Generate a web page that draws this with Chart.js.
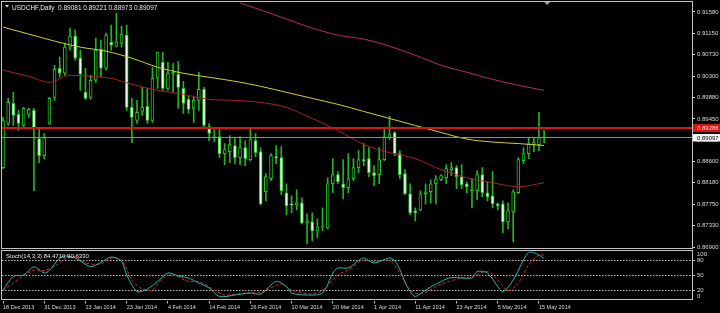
<!DOCTYPE html>
<html>
<head>
<meta charset="utf-8">
<script src="https://cdn.jsdelivr.net/npm/chart.js@4.4.1/dist/chart.umd.min.js"></script>
<style>
    html, body { margin: 0; padding: 0; background: #000; }
    #wrap { position: relative; width: 720px; height: 313px; background: #000; overflow: hidden; }
    #priceBox { position: absolute; left: 0; top: 0; width: 720px; height: 250px; }
    #stochBox { position: absolute; left: 0; top: 250px; width: 720px; height: 63px; }
</style>
</head>
<body>
<div id="wrap">
    <div id="priceBox"><canvas id="priceChart"></canvas></div>
    <div id="stochBox"><canvas id="stochChart"></canvas></div>
</div>
<script>
// USDCHF daily, 18 Dec 2013 .. 16 May 2014 (bar index 0..105)
const opens = [
    0.8848, 0.8936, 0.8976, 0.8954, 0.8932, 0.8954, 0.8962, 0.8906, 0.8872, 0.8936,
    0.8988, 0.9046, 0.9036, 0.9088, 0.9110, 0.9066, 0.8998, 0.8988, 0.9022, 0.9084,
    0.9046, 0.9098, 0.9090, 0.9096, 0.9112, 0.8968, 0.8942, 0.8960, 0.8970, 0.8942,
    0.9026, 0.9058, 0.9006, 0.9034, 0.9034, 0.9006, 0.8984, 0.8966, 0.8982, 0.9004,
    0.8930, 0.8908, 0.8910, 0.8876, 0.8880, 0.8892, 0.8868, 0.8888, 0.8864, 0.8902,
    0.8880, 0.8800, 0.8826, 0.8870, 0.8868, 0.8798, 0.8776, 0.8774, 0.8778, 0.8738,
    0.8740, 0.8722, 0.8728, 0.8728, 0.8816, 0.8834, 0.8816, 0.8808, 0.8826, 0.8848,
    0.8864, 0.8866, 0.8838, 0.8834, 0.8864, 0.8908, 0.8918, 0.8876, 0.8836, 0.8796,
    0.8762, 0.8764, 0.8796, 0.8800, 0.8816, 0.8824, 0.8828, 0.8844, 0.8848, 0.8830,
    0.8816, 0.8802, 0.8802, 0.8834, 0.8798, 0.8792, 0.8776, 0.8776, 0.8740, 0.8760,
    0.8798, 0.8862, 0.8876, 0.8894, 0.8894, 0.89081
];
const highs = [
    0.8948, 0.8986, 0.8998, 0.8962, 0.8968, 0.8966, 0.8966, 0.8928, 0.8916, 0.8988,
    0.9052, 0.9068, 0.9096, 0.9126, 0.9122, 0.9082, 0.9046, 0.9032, 0.9106, 0.9102,
    0.9116, 0.9132, 0.9156, 0.9130, 0.9132, 0.8986, 0.8982, 0.9008, 0.9006, 0.9048,
    0.9078, 0.9078, 0.9058, 0.9056, 0.9060, 0.9020, 0.8990, 0.8988, 0.9038, 0.9008,
    0.8936, 0.8924, 0.8928, 0.8896, 0.8912, 0.8908, 0.8910, 0.8902, 0.8928, 0.8916,
    0.8888, 0.8836, 0.8876, 0.8892, 0.8890, 0.8816, 0.8792, 0.8804, 0.8788, 0.8756,
    0.8758, 0.8746, 0.8768, 0.8828, 0.8866, 0.8840, 0.8864, 0.8876, 0.8866, 0.8882,
    0.8896, 0.8888, 0.8852, 0.8888, 0.8928, 0.8950, 0.8920, 0.8882, 0.8844, 0.8816,
    0.8768, 0.8802, 0.8816, 0.8824, 0.8832, 0.8834, 0.8854, 0.8858, 0.8852, 0.8854,
    0.8820, 0.8826, 0.8842, 0.8848, 0.8820, 0.8840, 0.8778, 0.8782, 0.8778, 0.8804,
    0.8868, 0.8888, 0.8908, 0.8908, 0.8958, 0.89221
];
const lows = [
    0.8846, 0.8932, 0.8932, 0.8922, 0.8926, 0.8948, 0.8802, 0.8858, 0.8866, 0.8934,
    0.8982, 0.9028, 0.9032, 0.9082, 0.9062, 0.9002, 0.8984, 0.8984, 0.9018, 0.9028,
    0.9042, 0.9082, 0.9088, 0.9088, 0.8962, 0.8898, 0.8936, 0.8952, 0.8936, 0.8938,
    0.9006, 0.9002, 0.9002, 0.8998, 0.8966, 0.8956, 0.8956, 0.8938, 0.8962, 0.8928,
    0.8902, 0.8900, 0.8868, 0.8854, 0.8858, 0.8856, 0.8854, 0.8852, 0.8862, 0.8870,
    0.8774, 0.8782, 0.8822, 0.8856, 0.8794, 0.8754, 0.8758, 0.8764, 0.8736, 0.8696,
    0.8702, 0.8708, 0.8722, 0.8726, 0.8798, 0.8816, 0.8786, 0.8798, 0.8822, 0.8838,
    0.8852, 0.8830, 0.8812, 0.8816, 0.8862, 0.8904, 0.8872, 0.8826, 0.8794, 0.8754,
    0.8742, 0.8762, 0.8776, 0.8778, 0.8776, 0.8822, 0.8816, 0.8832, 0.8806, 0.8806,
    0.8798, 0.8768, 0.8784, 0.8790, 0.8782, 0.8768, 0.8764, 0.8718, 0.8726, 0.8700,
    0.8796, 0.8856, 0.8866, 0.8880, 0.8882, 0.88973
];
const closes = [
    0.8942, 0.8978, 0.8952, 0.8936, 0.8966, 0.8964, 0.8926, 0.8872, 0.8908, 0.8986,
    0.9044, 0.9036, 0.9088, 0.9110, 0.9066, 0.9034, 0.8986, 0.9022, 0.9082, 0.9046,
    0.9112, 0.9092, 0.9098, 0.9114, 0.8968, 0.8948, 0.8958, 0.8968, 0.8942, 0.9026,
    0.9078, 0.9006, 0.9036, 0.9038, 0.9008, 0.8976, 0.8964, 0.8982, 0.9004, 0.8932,
    0.8916, 0.8910, 0.8876, 0.8884, 0.8894, 0.8868, 0.8888, 0.8866, 0.8904, 0.8878,
    0.8776, 0.8830, 0.8872, 0.8868, 0.8802, 0.8772, 0.8774, 0.8778, 0.8738, 0.8742,
    0.8722, 0.8730, 0.8730, 0.8816, 0.8834, 0.8820, 0.8808, 0.8826, 0.8848, 0.8864,
    0.8862, 0.8838, 0.8832, 0.8864, 0.8910, 0.8914, 0.8876, 0.8834, 0.8796, 0.8758,
    0.8758, 0.8796, 0.8800, 0.8816, 0.8826, 0.8832, 0.8846, 0.8848, 0.8830, 0.8814,
    0.8810, 0.8806, 0.8834, 0.8798, 0.8790, 0.8776, 0.8772, 0.8740, 0.8762, 0.8800,
    0.8864, 0.8876, 0.8896, 0.8898, 0.8908, 0.89097
];

const dateBars = [0, 8, 16, 24, 32, 40, 48, 56, 64, 72, 80, 88, 96, 104];
const dateLabels = ['18 Dec 2013', '31 Dec 2013', '13 Jan 2014', '23 Jan 2014', '4 Feb 2014',
    '14 Feb 2014', '26 Feb 2014', '10 Mar 2014', '20 Mar 2014', '1 Apr 2014', '11 Apr 2014',
    '23 Apr 2014', '5 May 2014', '15 May 2014'];

const priceTicks = [0.86900, 0.87330, 0.87750, 0.88180, 0.88600, 0.89030, 0.89450,
    0.89880, 0.90300, 0.90730, 0.91150, 0.91580];
const levelLine = 0.89286;

// moving averages, read at sample bars
const yellowMaBars = [0, 5, 10, 15, 20, 25, 30, 35, 40, 45, 50, 55, 60, 65, 70, 75, 80, 85, 90, 95, 100, 105];
const yellowMa = [0.9128, 0.9114, 0.9100, 0.9088, 0.9080, 0.9066, 0.9048, 0.9036, 0.9028, 0.9020, 0.9010,
    0.8998, 0.8986, 0.8974, 0.8960, 0.8946, 0.8932, 0.8918, 0.8905, 0.8899, 0.8896, 0.8892];
const redMaBars = [0, 5, 9, 13, 17, 21, 25, 30, 35, 40, 45, 50, 55, 60, 65, 70, 75, 80, 85, 90, 95, 100, 105];
const redMa = [0.9042, 0.9030, 0.9018, 0.9032, 0.9030, 0.9026, 0.9014, 0.9002, 0.8994, 0.8984, 0.8982, 0.8978,
    0.8968, 0.8946, 0.8922, 0.8894, 0.8878, 0.8866, 0.8844, 0.8828, 0.8818, 0.8810, 0.8818];
const magentaMaBars = [46, 50, 55, 60, 65, 70, 75, 80, 85, 90, 95, 100, 105];
const magentaMa = [0.9176, 0.9162, 0.9144, 0.9126, 0.9112, 0.9104, 0.9090, 0.9072, 0.9052, 0.9038, 0.9024, 0.9012, 0.9002];

// Stochastic (14,3,3)
const stochMainBars = [0, 2, 4, 6, 8, 9, 11, 12, 14, 17, 19, 21, 23, 24, 26, 28, 30, 32, 34, 36, 38, 40, 42, 45, 48,
    50, 53, 55, 56, 59, 62, 64, 65, 67, 69, 70, 72, 75, 76, 77, 78, 79, 80, 82, 85, 87, 91, 92, 94, 96, 97, 99,
    101, 102, 103, 105];
const stochMain = [21, 48, 51, 67, 55, 60, 85, 89, 85, 68, 76, 87, 78, 51, 18, 23, 38, 55, 49, 45, 35, 25, 8, 11, 15,
    13, 38, 28, 15, 11, 15, 55, 65, 65, 80, 85, 75, 85, 80, 62, 37, 18, 8, 21, 38, 46, 45, 58, 55, 28, 17, 41,
    81, 96, 96, 84.4710];
const stochSigBars = [0, 2, 4, 6, 8, 10, 12, 14, 16, 19, 21, 23, 25, 27, 29, 31, 33, 36, 38, 41, 43, 47, 50, 54, 56,
    60, 62, 65, 67, 69, 70, 72, 75, 77, 79, 81, 83, 85, 89, 91, 94, 96, 98, 100, 102, 104, 105];
const stochSig = [21, 35, 50, 61, 60, 68, 83, 88, 75, 73, 85, 81, 41, 23, 21, 45, 51, 38, 38, 21, 11, 15, 16, 33, 21,
    13, 20, 51, 61, 76, 81, 78, 80, 55, 21, 13, 21, 33, 45, 48, 58, 41, 20, 35, 71, 91, 90.6330];
const stochLevels = [20, 50, 80];
const stochTicks = [20, 50, 80];

const xMin = -0.2, xMax = 133.7;
const FONT = 'Liberation Sans';
const TEXT = '#d8d8d8';
const FRAME = '#c4c4c4';
const last = closes.length - 1;

const pts = (xs, ys) => xs.map((x, k) => ({ x: x, y: ys[k] }));

// black background + panel frame
const framePlugin = {
    id: 'frame',
    beforeDraw(chart) {
        const ctx = chart.ctx;
        ctx.save();
        ctx.fillStyle = '#000';
        ctx.fillRect(0, 0, chart.width, chart.height);
        ctx.restore();
    },
    afterDraw(chart) {
        const a = chart.chartArea, ctx = chart.ctx;
        ctx.save();
        ctx.strokeStyle = FRAME;
        ctx.lineWidth = 1;
        ctx.strokeRect(Math.floor(a.left) - 0.5, Math.floor(a.top) + 0.5,
            Math.round(a.right) - Math.floor(a.left) + 1, Math.floor(a.bottom) - Math.floor(a.top) - 1);
        ctx.restore();
    }
};

const priceOverlay = {
    id: 'priceOverlay',
    afterDatasetsDraw(chart) {
        const { ctx, chartArea: a, scales: { y } } = chart;
        ctx.save();
        // horizontal level
        const ly = Math.round(y.getPixelForValue(levelLine)) + 1;
        ctx.strokeStyle = '#d81414';
        ctx.lineWidth = 2;
        ctx.beginPath(); ctx.moveTo(a.left, ly); ctx.lineTo(a.right, ly); ctx.stroke();
        // bid line
        const by = Math.round(y.getPixelForValue(closes[last])) + 0.5;
        ctx.strokeStyle = '#8c8c8c';
        ctx.lineWidth = 1;
        ctx.beginPath(); ctx.moveTo(a.left, by); ctx.lineTo(a.right, by); ctx.stroke();
        ctx.restore();
    },
    afterDraw(chart) {
        const { ctx, chartArea: a, scales: { x, y } } = chart;
        ctx.save();
        // title
        ctx.fillStyle = '#e8e8e8';
        ctx.beginPath(); ctx.moveTo(5, 5); ctx.lineTo(9, 5); ctx.lineTo(7, 7.5); ctx.closePath(); ctx.fill();
        ctx.font = '6.5px "' + FONT + '"';
        ctx.textBaseline = 'alphabetic';
        ctx.textAlign = 'left';
        ctx.fillText('USDCHF,Daily', 12, 9.5);
        const ohlc = [opens[last], highs[last], lows[last], closes[last]].map(v => v.toFixed(5)).join(' ');
        ctx.fillText(ohlc, 58, 9.5);
        // chart shift marker
        const sx = x.getPixelForValue(last + 0.6);
        ctx.fillStyle = '#a0a0a0';
        ctx.beginPath(); ctx.moveTo(sx - 3, a.top + 0.5); ctx.lineTo(sx + 3, a.top + 0.5); ctx.lineTo(sx, a.top + 3.5); ctx.closePath(); ctx.fill();
        // price boxes on the axis
        ctx.font = '6px "' + FONT + '"';
        ctx.textBaseline = 'middle';
        const ry = y.getPixelForValue(levelLine);
        ctx.fillStyle = '#e01010';
        ctx.fillRect(a.right + 1, Math.round(ry) - 3, 720 - a.right, 8);
        ctx.fillStyle = '#ffd6d6';
        ctx.fillText(levelLine.toFixed(5), a.right + 5, Math.round(ry) + 1);
        const by = y.getPixelForValue(closes[last]);
        ctx.fillStyle = '#f4f4f4';
        ctx.fillRect(a.right + 1, Math.round(by) - 3, 720 - a.right, 7.5);
        ctx.fillStyle = '#000';
        ctx.fillText(closes[last].toFixed(5), a.right + 5, Math.round(by) + 1);
        ctx.restore();
    }
};

const stochOverlay = {
    id: 'stochOverlay',
    beforeDatasetsDraw(chart) {
        const { ctx, chartArea: a, scales: { y } } = chart;
        ctx.save();
        ctx.strokeStyle = '#bdbdbd';
        ctx.lineWidth = 1;
        ctx.setLineDash([1.5, 1.5]);
        stochLevels.forEach(v => {
            const py = Math.floor(y.getPixelForValue(v)) + 0.5;
            ctx.beginPath(); ctx.moveTo(a.left, py); ctx.lineTo(a.right, py); ctx.stroke();
        });
        ctx.restore();
    },
    afterDraw(chart) {
        const { ctx, chartArea: a, scales: { y } } = chart;
        ctx.save();
        ctx.fillStyle = '#e8e8e8';
        ctx.font = '6px "' + FONT + '"';
        ctx.textBaseline = 'alphabetic';
        ctx.fillText('Stoch(14,3,3) ' + stochMain[stochMain.length - 1].toFixed(4) + ' ' +
            stochSig[stochSig.length - 1].toFixed(4), 6, 7.5);
        ctx.fillStyle = TEXT;
        ctx.textBaseline = 'middle';
        ctx.fillText('100', a.right + 5, y.getPixelForValue(100) + 3.5);
        ctx.fillText('0', a.right + 5, y.getPixelForValue(0) - 4);
        ctx.restore();
    }
};

Chart.defaults.font.family = FONT;
Chart.defaults.animation = false;

const bull = closes.map((c, i) => c >= opens[i]);

new Chart(document.getElementById('priceChart'), {
    type: 'bar',
    data: {
        datasets: [
            {
                type: 'line', label: 'MA magenta', data: pts(magentaMaBars, magentaMa),
                borderColor: '#b8296a', borderWidth: 1, pointRadius: 0, cubicInterpolationMode: 'monotone', order: 1
            },
            {
                type: 'line', label: 'MA yellow', data: pts(yellowMaBars, yellowMa),
                borderColor: '#cfcf3c', borderWidth: 1, pointRadius: 0, cubicInterpolationMode: 'monotone', order: 1
            },
            {
                type: 'line', label: 'MA red', data: pts(redMaBars, redMa),
                borderColor: '#a82222', borderWidth: 1, pointRadius: 0, cubicInterpolationMode: 'monotone', order: 1
            },
            {
                label: 'wick', data: opens.map((o, i) => ({ x: i, y: [lows[i], highs[i]] })),
                backgroundColor: '#22b422', barThickness: 1, grouped: false, order: 3
            },
            {
                label: 'body', data: opens.map((o, i) => ({ x: i, y: [o, closes[i]] })),
                backgroundColor: bull.map(b => b ? '#000000' : '#eafcea'),
                borderColor: '#26c426', borderWidth: 1, borderSkipped: false,
                barThickness: 3, minBarLength: 1, grouped: false, order: 2
            }
        ]
    },
    options: {
        responsive: true,
        maintainAspectRatio: false,
        devicePixelRatio: 1,
        events: [],
        layout: { padding: { left: 2, top: 1.5, right: 0, bottom: 1 } },
        plugins: { legend: { display: false }, tooltip: { enabled: false } },
        scales: {
            x: { type: 'linear', min: xMin, max: xMax, offset: false, display: false },
            y: {
                position: 'right',
                min: 0.868602, max: 0.917891,
                afterBuildTicks: s => { s.ticks = priceTicks.map(v => ({ value: v })); },
                afterFit: s => { s.width = 28; s.paddingTop = 0; s.paddingBottom = 0; },
                ticks: { autoSkip: false, color: TEXT, padding: 2, font: { size: 6 }, callback: v => v.toFixed(5) },
                grid: { drawOnChartArea: false, tickLength: 3, color: FRAME },
                border: { display: false }
            }
        }
    },
    plugins: [framePlugin, priceOverlay]
});

new Chart(document.getElementById('stochChart'), {
    type: 'line',
    data: {
        datasets: [
            {
                label: 'Main', data: pts(stochMainBars, stochMain),
                borderColor: '#2fb5aa', borderWidth: 1, pointRadius: 0, tension: 0.3, order: 1
            },
            {
                label: 'Signal', data: pts(stochSigBars, stochSig),
                borderColor: '#e02828', borderWidth: 1, borderDash: [3, 2], pointRadius: 0, tension: 0.3, order: 2
            }
        ]
    },
    options: {
        responsive: true,
        maintainAspectRatio: false,
        devicePixelRatio: 1,
        events: [],
        layout: { padding: { left: 2, top: 0.5, right: 0, bottom: 0 } },
        plugins: { legend: { display: false }, tooltip: { enabled: false } },
        scales: {
            x: {
                type: 'linear', min: xMin, max: xMax, offset: false,
                afterBuildTicks: s => { s.ticks = dateBars.map(v => ({ value: v })); },
                afterFit: s => { s.height = 12.5; s.paddingLeft = 0; s.paddingRight = 0; },
                ticks: {
                    autoSkip: false, maxRotation: 0, align: 'start', padding: 1, color: TEXT,
                    font: { size: 5.5 }, callback: (v, i) => dateLabels[i]
                },
                grid: { drawOnChartArea: false, tickLength: 3, color: FRAME },
                border: { display: false }
            },
            y: {
                position: 'right', min: 0, max: 100,
                afterBuildTicks: s => { s.ticks = stochTicks.map(v => ({ value: v })); },
                afterFit: s => { s.width = 28; s.paddingTop = 0; s.paddingBottom = 0; },
                ticks: { autoSkip: false, color: TEXT, padding: 2, font: { size: 6 } },
                grid: { drawOnChartArea: false, tickLength: 3, color: FRAME },
                border: { display: false }
            }
        }
    },
    plugins: [framePlugin, stochOverlay]
});
</script>
</body>
</html>
